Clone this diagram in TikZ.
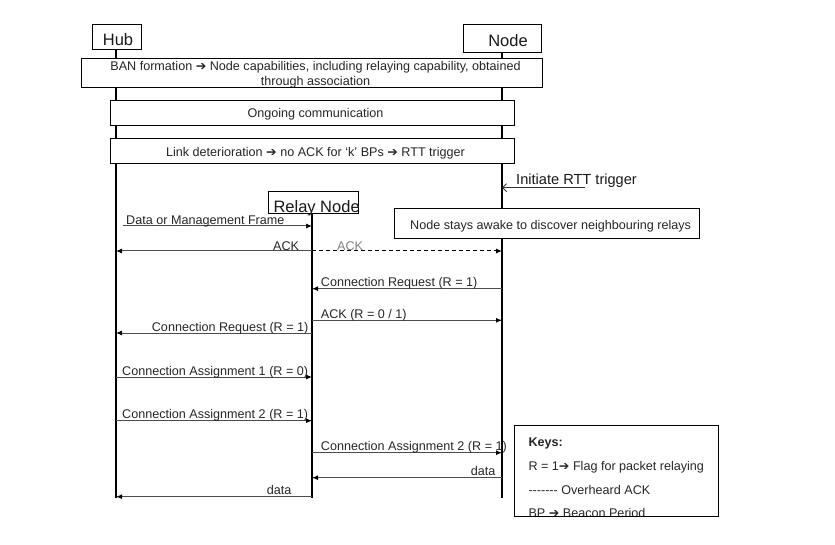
\documentclass[tikz,border=0pt]{standalone}
\usepackage{fontspec}
\setmainfont{Liberation Sans}
\newfontfamily\symf{DejaVu Sans}
\usetikzlibrary{arrows.meta}
\newcommand{\rarr}{{\symf\char"2794}}
\begin{document}
\begin{tikzpicture}[x=1pt,y=-1pt,
  box/.style={draw=black, line width=0.9pt, fill=white, inner sep=0pt},
  life/.style={line width=2pt, black},
  msg/.style={draw=black!70, line width=1pt, -{Latex[length=6pt,width=5pt,color=black]}},
  ovh/.style={draw=black, line width=1pt, dash pattern=on 4pt off 3pt, -{Latex[length=6pt,width=5pt,color=black]}},
  lbl/.style={anchor=base west, inner sep=0pt, font=\fontsize{12.6}{14}\selectfont, text=black!85},
  head/.style={inner sep=0pt, font=\fontsize{16.5}{18}\selectfont, text=black!90},
  txt/.style={inner sep=0pt, font=\fontsize{12.6}{15}\selectfont, text=black!85, align=center}]
\useasboundingbox (0,0) rectangle (835,545);

% lifeline end points
\coordinate (hubE) at (116,498);
\coordinate (relE) at (312,498);
\coordinate (nodE) at (502,498);

% header boxes
\node[box, minimum width=49pt, minimum height=25pt] (hub) at (117.2,36.5) {};
\node[box, minimum width=78.7pt, minimum height=28.3pt] (node) at (502.3,38.2) {};
\node[box, minimum width=90pt, minimum height=21.6pt] (relay) at (313.3,202.5) {};

% lifelines
\draw[life] (hub.south -| hubE) -- (hubE);
\draw[life] (node.south -| nodE) -- (nodE);
\draw[life] (relay.south -| relE) -- (relE);

% header texts
\node[head] (hubT) at (118,39.5) {Hub};
\node[head] (nodeT) at (508,41) {Node};
\node[head, anchor=base west] (relayT) at (273.3,212.3) {Relay Node};

% phase boxes
\node[box, minimum width=461pt, minimum height=29pt] (ban) at (312.2,72.8) {};
\node[txt] (banT) at (315.5,74.5) {BAN formation \rarr{} Node capabilities, including relaying capability, obtained\\through association};
\node[box, minimum width=404.3pt, minimum height=25.3pt] (ongo) at (312.2,112.7) {};
\node[txt] (ongoT) at (315.5,114.3) {Ongoing communication};
\node[box, minimum width=404.3pt, minimum height=25pt] (link) at (312.2,150.8) {};
\node[txt] (linkT) at (315.5,152.8) {Link deterioration \rarr{} no ACK for ‘k’ BPs \rarr{} RTT trigger};

% RTT trigger
\coordinate (rttS) at (585,187.7);
\draw[line width=0.9pt, black!80, -{Straight Barb[length=4pt,width=8pt]}] (rttS) -- (rttS -| nodE);
\node[anchor=base west, inner sep=0pt, font=\fontsize{14.6}{16}\selectfont, text=black!90] (rttT) at (516,185) {Initiate RTT trigger};

% awake box
\node[box, minimum width=304.7pt, minimum height=30.5pt] (awake) at (546.7,223.5) {};
\node[txt, anchor=west] (awakeT) at (410,226.5) {Node stays awake to discover neighbouring relays};

% message levels
\coordinate (m1) at (122.7,226);
\coordinate (m2) at (0,251);
\coordinate (m4) at (0,288.7);
\coordinate (m5) at (0,320.3);
\coordinate (m6) at (0,333);
\coordinate (m7) at (0,377);
\coordinate (m8) at (0,420.7);
\coordinate (m9) at (0,452.7);
\coordinate (m10) at (0,477.7);
\coordinate (m11) at (0,496.7);

\draw[msg] (m1) -- (m1 -| relE);
\node[lbl] (t1) at (126,225) {Data or Management Frame};

\draw[msg] (m2 -| relE) -- (m2 -| hubE);
\node[lbl] (t2) at (273,250.5) {ACK};
\draw[ovh] (m2 -| relE) -- (m2 -| nodE);
\node[lbl, text=black!50] (t3) at (337,250.5) {ACK};

\draw[msg] (m4 -| nodE) -- (m4 -| relE);
\node[lbl] (t4) at (320.7,286.7) {Connection Request (R = 1)};

\draw[msg] (m5 -| relE) -- (m5 -| nodE);
\node[lbl] (t5) at (320.7,318.3) {ACK (R = 0 / 1)};

\draw[msg] (m6 -| relE) -- (m6 -| hubE);
\node[lbl] (t6) at (151.7,331) {Connection Request (R = 1)};

\draw[msg] (m7 -| hubE) -- (m7 -| relE);
\node[lbl] (t7) at (122,375) {Connection Assignment 1 (R = 0)};

\draw[msg] (m8 -| hubE) -- (m8 -| relE);
\node[lbl] (t8) at (122,418.7) {Connection Assignment 2 (R = 1)};

\draw[msg] (m9 -| relE) -- (m9 -| nodE);
\node[lbl] (t9) at (320.7,450.7) {Connection Assignment 2 (R = 1)};

\draw[msg] (m10 -| nodE) -- (m10 -| relE);
\node[lbl] (t10) at (470.7,475.7) {data};

\draw[msg] (m11 -| relE) -- (m11 -| hubE);
\node[lbl] (t11) at (266.7,494.7) {data};

% keys
\node[lbl, font=\fontsize{12.6}{14}\selectfont\bfseries] (k1) at (528.3,446.7) {Keys:};
\node[lbl] (k2) at (528.3,470.7) {R = 1\rarr{} Flag for packet relaying};
\node[lbl] (k3) at (528.3,494) {-{}-{}-{}-{}-{}-{}- Overheard ACK};
\node[lbl] (k4) at (528.3,517.7) {BP \rarr{} Beacon Period};
\node[draw=black, line width=0.9pt, inner sep=0pt, minimum width=204.3pt, minimum height=91pt] (keys) at (616.2,470.5) {};
\end{tikzpicture}
\end{document}
